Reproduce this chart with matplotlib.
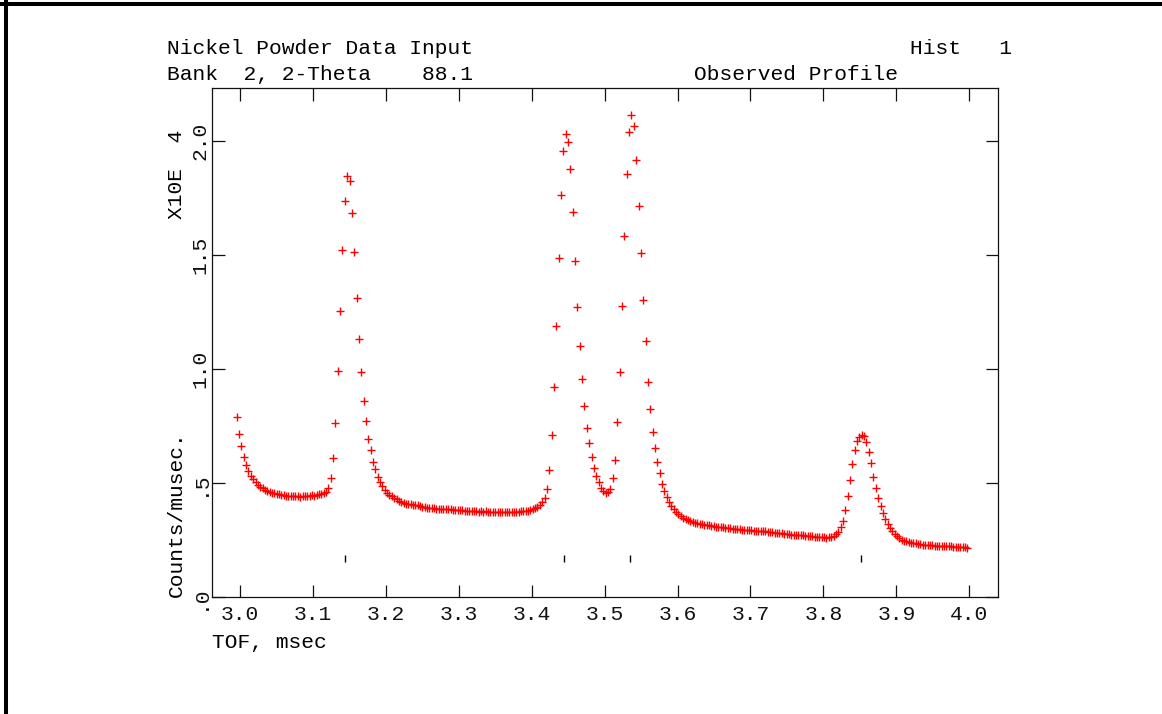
import numpy as np
import matplotlib
matplotlib.use('Agg')
import matplotlib.pyplot as plt
from matplotlib.lines import Line2D

# histogram bins: first TOF bin and bin width (msec)
tof_start = 2.9955
tof_step = 0.003222

# observed profile, counts/musec in units of 10^4
counts = [
    0.790, 0.715, 0.662, 0.615, 0.578, 0.552, 0.532, 0.516, 0.503, 0.492,
    0.483, 0.476, 0.470, 0.466, 0.462, 0.458, 0.455, 0.452, 0.450, 0.448,
    0.446, 0.445, 0.444, 0.443, 0.442, 0.441, 0.442, 0.440, 0.443, 0.444,
    0.441, 0.444, 0.446, 0.445, 0.448, 0.450, 0.454, 0.458, 0.462, 0.478,
    0.520, 0.610, 0.762, 0.990, 1.255, 1.522, 1.738, 1.845, 1.826, 1.683,
    1.515, 1.313, 1.131, 0.986, 0.860, 0.770, 0.695, 0.647, 0.594, 0.560,
    0.527, 0.506, 0.489, 0.470, 0.458, 0.449, 0.441, 0.434, 0.428, 0.423,
    0.417, 0.412, 0.409, 0.407, 0.406, 0.405, 0.403, 0.402, 0.400, 0.396,
    0.393, 0.392, 0.391, 0.390, 0.389, 0.388, 0.387, 0.386, 0.386, 0.385,
    0.386, 0.385, 0.383, 0.382, 0.382, 0.381, 0.380, 0.379, 0.378, 0.377,
    0.376, 0.377, 0.376, 0.375, 0.376, 0.375, 0.376, 0.374, 0.375, 0.375,
    0.374, 0.375, 0.374, 0.375, 0.374, 0.373, 0.374, 0.373, 0.374, 0.375,
    0.374, 0.376, 0.376, 0.378, 0.379, 0.381, 0.384, 0.389, 0.395, 0.404,
    0.417, 0.435, 0.475, 0.555, 0.710, 0.922, 1.188, 1.487, 1.765, 1.958,
    2.031, 1.998, 1.877, 1.689, 1.474, 1.272, 1.099, 0.956, 0.836, 0.741,
    0.674, 0.612, 0.568, 0.532, 0.503, 0.480, 0.464, 0.456, 0.459, 0.473,
    0.520, 0.603, 0.768, 0.989, 1.276, 1.582, 1.855, 2.041, 2.113, 2.066,
    1.919, 1.717, 1.508, 1.304, 1.125, 0.945, 0.825, 0.722, 0.653, 0.591,
    0.545, 0.496, 0.465, 0.440, 0.418, 0.398, 0.384, 0.372, 0.362, 0.354,
    0.347, 0.341, 0.336, 0.333, 0.329, 0.326, 0.324, 0.321, 0.319, 0.318,
    0.316, 0.314, 0.313, 0.311, 0.309, 0.308, 0.307, 0.305, 0.304, 0.302,
    0.301, 0.300, 0.299, 0.298, 0.297, 0.296, 0.295, 0.294, 0.293, 0.292,
    0.291, 0.291, 0.290, 0.289, 0.289, 0.288, 0.287, 0.285, 0.284, 0.282,
    0.281, 0.280, 0.279, 0.277, 0.276, 0.275, 0.274, 0.273, 0.272, 0.271,
    0.271, 0.270, 0.269, 0.268, 0.267, 0.266, 0.265, 0.265, 0.263, 0.262,
    0.262, 0.261, 0.262, 0.264, 0.268, 0.275, 0.285, 0.305, 0.335, 0.381,
    0.444, 0.512, 0.582, 0.644, 0.684, 0.703, 0.709, 0.706, 0.678, 0.634,
    0.590, 0.526, 0.480, 0.436, 0.399, 0.370, 0.343, 0.321, 0.304, 0.288,
    0.276, 0.267, 0.259, 0.252, 0.247, 0.244, 0.241, 0.238, 0.237, 0.235,
    0.233, 0.231, 0.230, 0.229, 0.228, 0.227, 0.226, 0.225, 0.225, 0.224,
    0.224, 0.223, 0.224, 0.222, 0.222, 0.221, 0.221, 0.220, 0.219, 0.220,
    0.218, 0.217,
]

# reflection positions (msec)
reflections = [3.1444, 3.4449, 3.5344, 3.8513]

x_ticks = [3.0, 3.1, 3.2, 3.3, 3.4, 3.5, 3.6, 3.7, 3.8, 3.9, 4.0]
x_labels = ['3.0', '3.1', '3.2', '3.3', '3.4', '3.5', '3.6', '3.7', '3.8', '3.9', '4.0']
y_ticks = [0.0, 0.5, 1.0, 1.5, 2.0]
y_labels = ['.0', '.5', '1.0', '1.5', '2.0']

tof = tof_start + tof_step * np.arange(len(counts))

plt.rcParams['font.family'] = ['Liberation Mono', 'DejaVu Sans Mono']
plt.rcParams['font.size'] = 15.3

W, H = 1162, 714
fig = plt.figure(figsize=(W / 100, H / 100), dpi=100)
ax = fig.add_axes([212 / W, 1 - 597 / H, (998 - 212) / W, (597 - 88) / H])

ax.plot(tof, counts, ls='none', marker='+', color='red', ms=5.5, mew=1.0)
ax.vlines(reflections, 0.153, 0.183, color='black', lw=1.0)

ax.set_xlim(2.9616, 4.0394)
ax.set_ylim(0, 2.233)
ax.set_xticks(x_ticks)
ax.set_xticklabels(x_labels)
ax.set_yticks(y_ticks)
ax.set_yticklabels(y_labels)

ax.tick_params(axis='both', direction='in', length=9, width=0.9,
               top=True, right=True, colors='#111111')
ax.tick_params(axis='x', pad=6)
ax.tick_params(axis='y', pad=2, labelrotation=90)
for lab in ax.get_yticklabels():
    lab.set_va('center')
    lab.set_ha('right')

for sp in ax.spines.values():
    sp.set_linewidth(0.9)
    sp.set_color('#111111')

# header texts
fig.text(167 / W, 1 - 48 / H, 'Nickel Powder Data Input', ha='left', va='center')
fig.text(1012 / W, 1 - 48 / H, 'Hist   1', ha='right', va='center')
fig.text(167 / W, 1 - 75 / H, 'Bank  2, 2-Theta    88.1', ha='left', va='center')
fig.text(898 / W, 1 - 75 / H, 'Observed Profile', ha='right', va='center')

# axis titles
fig.text(212 / W, 1 - 642 / H, 'TOF, msec', ha='left', va='center')
fig.text(176 / W, 1 - 597 / H, 'Counts/musec.', rotation=90, ha='center', va='bottom')
fig.text(176 / W, 1 - 130 / H, 'X10E  4', rotation=90, ha='center', va='top')

# frame lines at left and top of the window
fig.add_artist(Line2D([6 / W, 6 / W], [0, 1], transform=fig.transFigure,
                      color='black', lw=2.9))
fig.add_artist(Line2D([0, 1], [1 - 4 / H, 1 - 4 / H], transform=fig.transFigure,
                      color='black', lw=2.9))

fig.savefig('out.png', dpi=100)
